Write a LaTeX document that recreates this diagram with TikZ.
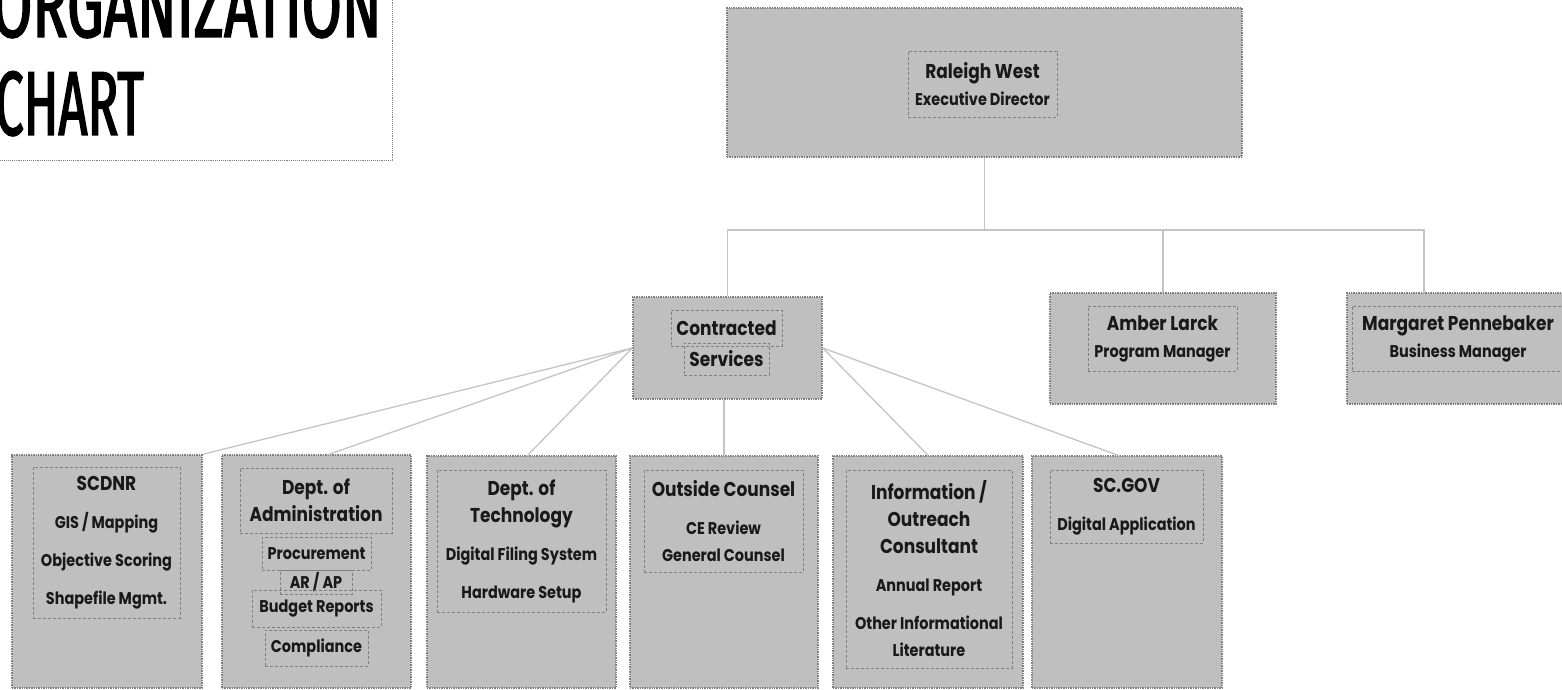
\documentclass[tikz,border=0pt]{standalone}
\usepackage{fontspec}
\usepackage{graphicx}
\setmainfont{Poppins}[FakeStretch=0.85]
\newfontfamily\titlefont{Fira Sans}[FakeStretch=0.56, FakeBold=1.6]
\usetikzlibrary{positioning}

\definecolor{boxgray}{HTML}{BFBFBF}
\definecolor{edgegray}{HTML}{7F7F7F}
\definecolor{linkgray}{HTML}{C4C4C4}

\newcommand\itemfont{\fontsize{17}{27}\selectfont\bfseries}
\newcommand\headfont{\fontsize{20}{27}\selectfont}

\tikzset{
  unit/.style={draw=edgegray, densely dotted, line width=1.4pt, fill=boxgray, inner sep=0pt},
  tag/.style={draw=edgegray, dash pattern=on 3pt off 2pt, line width=0.7pt,
    inner sep=0pt, align=center, font=\itemfont, text=black!90},
  link/.style={draw=linkgray, line width=1.3pt},
  titlebox/.style={draw=edgegray, densely dotted, line width=0.9pt},
  headline/.style={anchor=base west, inner sep=0pt, font=\titlefont\fontsize{91}{91}\selectfont},
}

\begin{document}
\begin{tikzpicture}[x=1pt, y=-1pt]
  \useasboundingbox (0,0) rectangle (1562,690);

  % title
  \draw[titlebox] (-10,-10) rectangle (392,160);
  \node[headline] (ttl1) at (-8,37) {\scalebox{1.14}[1]{ORGANIZATION}};
  \node[headline] (ttl2) at (-5,135) {CHART};

  % outer boxes
  \node[unit, minimum width=515, minimum height=149] (ed) at (984.5,82.5) {};
  \node[unit, minimum width=189, minimum height=102] (cs) at (727.5,348) {};
  \node[unit, minimum width=226, minimum height=111] (al) at (1163,348.5) {};
  \node[unit, minimum width=222, minimum height=111] (mp) at (1458,348.5) {};
  \node[unit, minimum width=190, minimum height=233] (sd) at (107,571.5) {};
  \node[unit, minimum width=189, minimum height=233] (da) at (316.5,571.5) {};
  \node[unit, minimum width=189, minimum height=232] (dt) at (521.5,572) {};
  \node[unit, minimum width=188, minimum height=232] (oc) at (724,572) {};
  \node[unit, minimum width=190, minimum height=232] (ic) at (928,572) {};
  \node[unit, minimum width=190, minimum height=232] (sg) at (1127,572) {};

  % text boxes
  \node[tag, minimum width=149, minimum height=66] (edT) at (982.5,84)
    {{\headfont Raleigh West}\\Executive Director};
  \node[tag, minimum width=111, minimum height=36] (csT1) at (726.5,328) {\headfont Contracted};
  \node[tag, minimum width=85, minimum height=32] (csT2) at (726.5,359) {\headfont Services};
  \node[tag, minimum width=149, minimum height=65] (alT) at (1162.5,338.5)
    {{\headfont Amber Larck}\\Program Manager};
  \node[tag, minimum width=212, minimum height=65] (mpT) at (1458,338.5)
    {{\headfont Margaret Pennebaker}\\Business Manager};

  \node[tag, minimum width=147, minimum height=151] (sdT) at (106.5,542.5)
    {{\headfont SCDNR}\\[11pt]GIS / Mapping\\[11pt]Objective Scoring\\[11pt]Shapefile Mgmt.};
  \node[tag, minimum width=152, minimum height=65] (daT) at (316,500.5)
    {\headfont Dept. of\\\headfont Administration};
  \node[tag, minimum width=109, minimum height=33] (daT1) at (316.5,553.5) {Procurement};
  \node[tag, minimum width=72, minimum height=24] (daT2) at (316,582) {AR / AP};
  \node[tag, minimum width=129, minimum height=37] (daT3) at (316.5,608.5) {Budget Reports};
  \node[tag, minimum width=103, minimum height=36] (daT4) at (316.5,648) {Compliance};
  \node[tag, minimum width=169, minimum height=142] (dtT) at (521.5,541)
    {\headfont Dept. of\\\headfont Technology\\[11pt]Digital Filing System\\[11pt]Hardware Setup};
  \node[tag, minimum width=159, minimum height=102] (ocT) at (723.5,521)
    {{\headfont Outside Counsel}\\[11pt]CE Review\\General Counsel};
  \node[tag, minimum width=166, minimum height=198] (icT) at (929,569)
    {\headfont Information /\\\headfont Outreach\\\headfont Consultant\\[11pt]Annual Report\\[11pt]Other Informational\\Literature};
  \node[tag, minimum width=153, minimum height=73] (sgT) at (1126.5,506.5)
    {{\headfont SC.GOV}\\[11pt]Digital Application};

  % connectors
  \coordinate (bus) at (983,230);
  \coordinate (mpTop) at (1424,293);
  \coordinate (daTop) at (327,455);
  \coordinate (dtTop) at (527,456);
  \coordinate (sgTop) at (1120,456);
  \draw[link] (ed.south) -- (ed.south |- bus);
  \draw[link] (cs.north) |- (al.north |- bus) -- (al.north);
  \draw[link] (al.north |- bus) -| (mpTop);
  \draw[link] (cs.west) -- (sd.north east);
  \draw[link] (cs.west) -- (daTop);
  \draw[link] (cs.west) -- (dtTop);
  \draw[link] (oc.north |- cs.south) -- (oc.north);
  \draw[link] (cs.east) -- (ic.north);
  \draw[link] (cs.east) -- (sgTop);
\end{tikzpicture}
\end{document}
